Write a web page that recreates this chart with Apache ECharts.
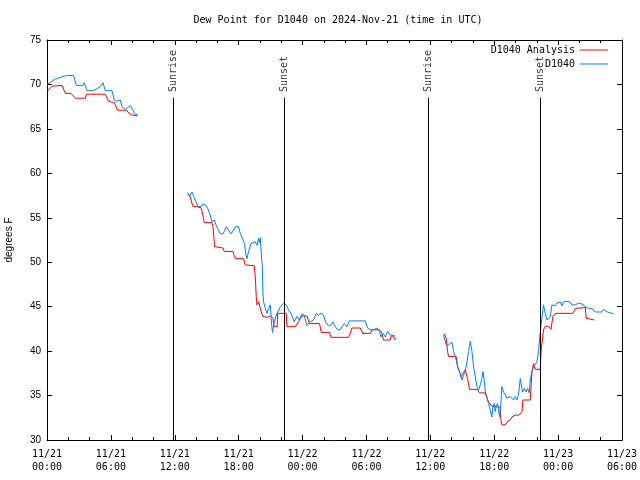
<!DOCTYPE html>
<html><head><meta charset="utf-8">
<script src="https://cdn.jsdelivr.net/npm/echarts@6/dist/echarts.min.js"></script>
<style>html,body{margin:0;padding:0;background:#fff}#c{width:640px;height:480px}</style>
</head><body><div id="c"></div>
<script>
// hours since 2024-11-21 00:00 UTC; null = gap
const obsTimes = [0.00,0.40,0.78,1.81,2.50,2.75,3.38,3.50,3.76,4.38,5.00,5.26,5.47,6.10,6.32,6.51,6.88,7.04,7.35,7.57,7.82,8.08,8.29,8.51,
 10.9,
 13.20,13.39,13.62,13.92,14.23,14.46,14.65,14.86,15.08,15.27,15.49,15.71,15.87,16.11,16.27,16.53,16.68,16.84,17.05,17.28,17.46,17.68,17.99,18.15,18.37,18.55,18.69,18.78,18.93,19.15,19.25,19.56,19.72,19.87,19.96,20.03,20.12,20.22,20.28,20.34,20.50,20.66,20.81,20.97,21.08,21.18,21.34,21.60,21.91,22.22,22.47,22.69,22.91,23.22,23.47,23.72,23.94,24.16,24.41,24.72,25.03,25.29,25.50,25.73,25.97,26.23,26.44,26.65,26.85,27.07,27.29,27.54,27.70,27.92,28.17,28.41,29.89,30.10,30.36,30.67,30.99,31.23,31.36,31.55,31.77,31.98,32.23,32.49,32.64,32.80,
 35.0,
 37.24,37.40,37.49,37.71,37.87,38.03,38.18,38.34,38.50,38.65,38.81,38.97,39.12,39.28,39.44,39.59,39.75,39.91,40.06,40.22,40.38,40.53,40.69,40.85,40.94,41.06,41.16,41.31,41.46,41.62,41.78,41.88,42.00,42.09,42.19,42.31,42.40,42.50,42.63,42.72,42.87,43.03,43.19,43.34,43.50,43.66,43.81,43.97,44.13,44.28,44.45,44.54,44.66,44.82,45.00,45.13,45.29,45.38,45.54,45.69,45.85,46.01,46.16,46.25,46.38,46.63,46.79,46.95,47.10,47.26,47.42,47.57,47.73,47.89,48.04,48.20,48.36,48.51,48.83,49.14,49.30,49.61,49.92,50.23,50.55,50.86,51.02,51.17,51.48,52.11,52.27,52.64,52.80,53.21];
const obsValues = [70.0,70.3,70.6,71.0,71.0,69.9,69.9,70.2,69.3,69.3,69.75,70.2,69.3,69.3,68.25,68.1,68.25,67.5,67.2,67.4,67.6,67.1,66.6,66.6,
 null,
 57.8,57.4,57.9,57.0,56.1,56.25,56.55,56.45,56.1,55.5,54.55,54.75,54.2,53.6,53.2,53.2,53.55,54.0,53.6,53.2,53.5,54.0,54.0,53.25,52.6,52.1,50.8,50.4,51.2,52.1,52.3,52.3,51.9,52.7,52.2,52.7,51.0,49.5,46.5,45.55,44.8,44.25,44.8,45.2,43.2,42.1,43.3,44.25,45.0,45.4,45.2,44.6,44.25,43.3,43.9,43.5,44.2,44.0,42.9,43.3,43.5,44.25,44.0,44.3,44.0,43.1,42.9,42.9,43.3,42.75,42.4,42.4,42.75,43.1,42.75,43.4,43.4,42.6,42.4,42.4,42.6,42.2,41.6,42.0,41.6,42.2,41.8,41.8,41.25,41.5,
 null,
 41.8,41.8,40.7,40.7,40.9,41.0,39.95,39.4,39.4,37.9,37.5,36.75,37.3,37.7,38.8,39.95,41.1,39.95,38.25,37.1,36.0,35.6,36.2,36.9,37.7,36.75,35.4,34.9,34.1,33.4,32.6,33.75,34.1,33.2,33.75,34.1,33.4,32.6,34.1,36.0,35.4,35.1,34.7,34.5,34.9,35.1,34.5,34.9,34.5,35.1,36.9,36.2,35.4,35.8,35.4,35.8,35.3,36.75,37.7,38.25,38.1,38.8,39.95,41.25,42.75,45.2,44.25,43.5,43.3,43.8,45.2,45.4,45.1,45.4,45.2,45.55,45.1,45.55,45.6,45.5,45.2,45.2,45.4,45.3,45.0,44.8,45.0,44.8,44.4,44.4,44.7,44.4,44.2,44.2];

const anaTimes = [0.00,0.47,1.41,1.72,2.25,2.66,3.60,3.69,5.47,5.78,5.94,6.32,6.63,7.45,7.82,8.51,
 10.9,
 13.20,13.39,13.71,14.39,14.55,14.77,15.49,15.59,15.74,16.53,16.65,17.46,17.68,18.46,18.62,19.46,19.56,19.65,19.72,19.87,20.03,20.12,20.28,20.66,20.97,21.22,21.34,21.62,21.65,22.47,22.53,23.31,23.62,23.94,24.41,24.66,25.60,25.76,26.54,26.67,28.32,28.48,28.64,29.42,29.67,30.36,30.52,31.23,31.46,31.60,32.23,32.32,32.70,
 35.0,
 37.31,37.49,37.62,37.71,38.43,38.55,38.74,38.87,39.02,39.28,39.49,39.68,40.38,40.62,41.16,41.25,41.46,41.78,42.56,42.63,42.72,43.03,43.25,43.50,43.66,43.97,44.28,44.60,44.69,45.38,45.48,45.54,45.69,45.85,46.32,46.41,46.54,46.63,46.79,47.10,47.33,47.51,47.73,49.39,49.61,50.55,50.64,50.70,51.41];
const anaValues = [69.2,69.8,69.9,69.0,69.0,68.45,68.45,68.9,68.9,68.1,67.95,67.95,67.1,67.1,66.6,66.45,
 null,
 57.75,57.55,56.25,56.25,55.8,54.45,54.45,54.0,51.75,51.6,51.2,51.2,50.4,50.4,49.7,49.6,48.4,46.1,45.2,45.55,45.4,44.4,43.9,43.8,43.95,43.7,42.75,42.75,44.25,44.25,42.75,42.75,43.3,43.95,43.95,43.1,43.1,42.1,42.1,41.55,41.55,42.0,42.6,42.6,42.0,42.0,42.4,42.4,42.0,41.25,41.25,41.7,41.7,
 null,
 41.95,41.45,39.95,39.4,39.4,38.25,37.7,37.1,37.3,37.9,36.9,35.7,35.7,35.3,35.3,34.9,34.3,33.8,33.7,32.25,31.7,31.7,32.1,32.25,32.6,32.8,32.8,33.1,34.5,34.5,36.4,37.5,38.6,37.95,37.95,40.1,40.1,42.4,42.8,42.8,42.45,43.9,44.25,44.25,44.8,44.9,43.7,43.5,43.5];

const eventNames = ['Sunrise','Sunset','Sunrise','Sunset'];
const eventTimes = [11.83,22.31,35.83,46.35];

const seriesNames = ['D1040 Analysis','D1040'];
const mono = '"DejaVu Sans Mono", monospace';
const sans = '"Liberation Sans", Arial, sans-serif';

function pairs(ts, vs){ return ts.map((t,i)=>[t, vs[i]===null ? '-' : vs[i]]); }
function fmtX(h){
  const d = 21 + Math.floor(h/24);
  const hh = Math.round(h % 24);
  return '11/' + d + '\n' + String(hh).padStart(2,'0') + ':00';
}

const chart = echarts.init(document.getElementById('c'), null, {renderer:'canvas'});
const xBase = {type:'value', min:0, max:54, interval:6,
  axisLine:{show:true, onZero:false, lineStyle:{color:'#000', width:1}},
  axisTick:{inside:true, length:5, lineStyle:{color:'#000'}},
  minorTick:{show:true, splitNumber:3, length:3, lineStyle:{color:'#000'}},
  splitLine:{show:false}};
const yBase = {type:'value', min:30, max:75, interval:5,
  axisLine:{show:true, onZero:false, lineStyle:{color:'#000', width:1}},
  axisTick:{inside:true, length:5, lineStyle:{color:'#000'}},
  splitLine:{show:false}};

chart.setOption({
  animation:false,
  backgroundColor:'#fff',
  title:{text:'Dew Point for D1040 on 2024-Nov-21 (time in UTC)', left:333, top:10, textAlign:'center',
    textStyle:{fontFamily:mono, fontSize:10, fontWeight:'normal', color:'#000'}},
  grid:{left:47, right:18, top:40, bottom:40, containLabel:false, outerBoundsMode:'none'},
  legend:{data:seriesNames, orient:'vertical', right:27, top:40, align:'right', icon:'rect',
    itemWidth:28, itemHeight:1, itemGap:4,
    textStyle:{fontFamily:mono, fontSize:10, color:'#000'}},
  xAxis:[
    Object.assign({}, xBase, {position:'bottom',
      axisLabel:{formatter:fmtX, fontFamily:mono, fontSize:10, color:'#000', margin:8, lineHeight:13}}),
    Object.assign({}, xBase, {position:'top', axisLabel:{show:false}})
  ],
  yAxis:[
    Object.assign({}, yBase, {position:'left', name:'degrees F', nameLocation:'middle', nameGap:33, nameRotate:90,
      nameTextStyle:{fontFamily:sans, fontSize:10, color:'#000'},
      axisLabel:{fontFamily:sans, fontSize:10, color:'#000', margin:6}}),
    Object.assign({}, yBase, {position:'right', axisLabel:{show:false}})
  ],
  series:[
    {name:seriesNames[0], type:'line', data:pairs(anaTimes, anaValues), symbol:'none', connectNulls:false,
      lineStyle:{color:'#ff0000', width:1}, itemStyle:{color:'#ff0000'}, z:2,
      markLine:{silent:true, symbol:'none', animation:false,
        lineStyle:{color:'#000', width:1, type:'solid'}, label:{show:false},
        data:eventTimes.map(t=>[{coord:[t,68.5]},{coord:[t,30]}])}},
    {name:seriesNames[1], type:'line', data:pairs(obsTimes, obsValues), symbol:'none', connectNulls:false,
      lineStyle:{color:'#0080ff', width:1}, itemStyle:{color:'#0080ff'}, z:3},
    {name:'events', type:'scatter', symbolSize:0, silent:true, z:4,
      data:eventTimes.map((t,i)=>({name:eventNames[i], value:[t,69.15]})),
      label:{show:true, formatter:'{b}', position:'inside', rotate:90, align:'left', verticalAlign:'middle',
        fontFamily:mono, fontSize:10, color:'#000'}}
  ]
});
</script>
</body></html>
